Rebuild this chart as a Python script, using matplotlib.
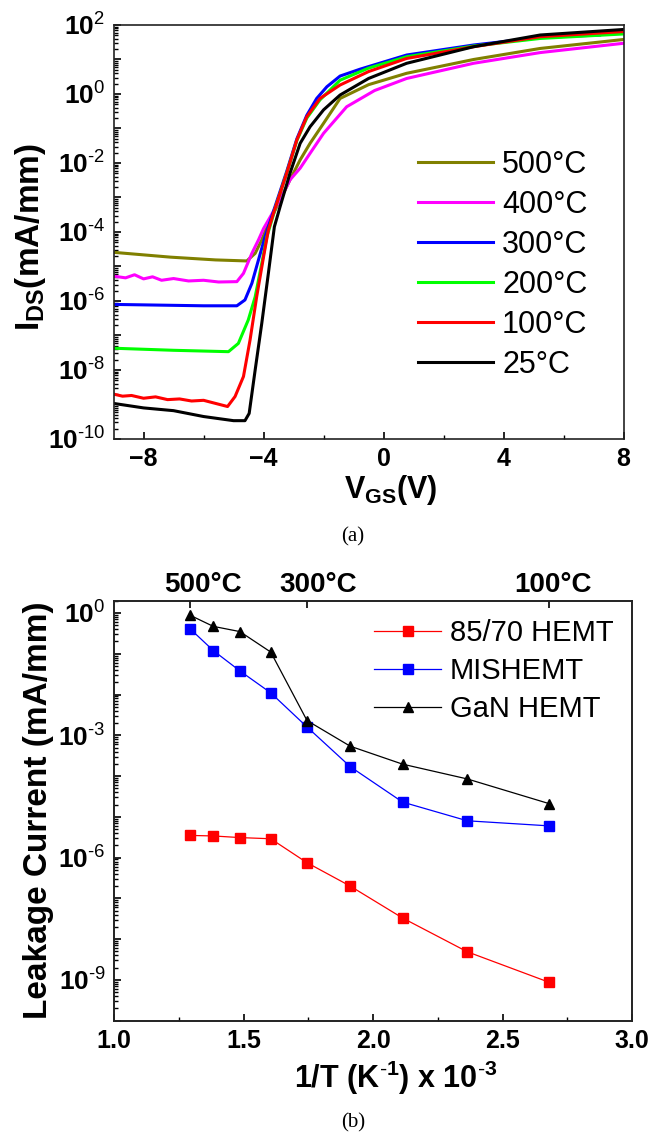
import numpy as np
import matplotlib
matplotlib.use("Agg")
import matplotlib.pyplot as plt
from matplotlib.ticker import FixedLocator, FuncFormatter, LogLocator, NullFormatter
from matplotlib.transforms import ScaledTranslation

plt.rcParams["font.family"] = ["Liberation Sans", "DejaVu Sans"]
plt.rcParams["mathtext.fontset"] = "custom"
plt.rcParams["mathtext.rm"] = "Liberation Sans"
plt.rcParams["mathtext.bf"] = "Liberation Sans:bold"
plt.rcParams["mathtext.it"] = "Liberation Sans:italic"

# ---- (a) transfer curves, log10(I_DS) ----
labels_a = ["500°C", "400°C", "300°C", "200°C", "100°C", "25°C"]
colors_a = ["#808000", "#ff00ff", "#0000ff", "#00ff00", "#ff0000", "#000000"]

v_500 = [-9, -7.1, -5.6, -4.56, -4.28, -4.06, -3.93, -3.56, -3.12, -2.78, -2.45, -2.0, -1.45, -0.5, 0.77, 3.0,
         5.22, 8]
i_500 = [-4.59, -4.73, -4.81, -4.84, -4.62, -4.23, -3.94, -3.27, -2.49, -1.91, -1.43, -0.85, -0.13, 0.27, 0.60,
         1.0, 1.32, 1.58]

v_400 = [-9, -8.6, -8.3, -8.0, -7.7, -7.4, -7.0, -6.5, -6.0, -5.5, -4.89, -4.67, -4.39, -4.17, -4.0, -3.45,
         -3.12, -2.78, -2.45, -2.0, -1.23, -0.3, 0.77, 3.0, 5.22, 8]
i_400 = [-5.28, -5.33, -5.24, -5.36, -5.30, -5.40, -5.35, -5.42, -5.40, -5.45, -5.44, -5.20, -4.62, -4.23, -3.90,
         -3.07, -2.49, -2.15, -1.72, -1.14, -0.37, 0.10, 0.45, 0.89, 1.20, 1.47]

v_300 = [-9, -6, -4.89, -4.62, -4.39, -4.17, -3.95, -3.67, -3.23, -2.89, -2.56, -2.23, -1.89, -1.45, -0.78,
         0.77, 3.0, 5.22, 7.2]
i_300 = [-6.10, -6.14, -6.14, -5.97, -5.49, -4.81, -4.14, -3.40, -2.25, -1.30, -0.62, -0.13, 0.21, 0.52, 0.72,
         1.13, 1.42, 1.64, 1.71]

v_200 = [-9, -7, -5.17, -4.84, -4.51, -4.28, -4.06, -3.89, -3.56, -3.23, -2.89, -2.56, -2.12, -1.45, -0.5, 0.77,
         3.0, 5.22, 8]
i_200 = [-7.37, -7.43, -7.47, -7.23, -6.55, -5.88, -4.91, -4.14, -3.17, -2.30, -1.35, -0.70, -0.17, 0.40, 0.75,
         1.08, 1.39, 1.61, 1.74]

v_100 = [-9, -8.7, -8.4, -8.0, -7.6, -7.2, -6.8, -6.4, -6.0, -5.6, -5.2, -4.95, -4.67, -4.45, -4.23, -4.0, -3.84,
         -3.67, -3.23, -2.89, -2.56, -2.12, -1.45, -0.5, 0.77, 3.0, 5.22, 8]
i_100 = [-8.70, -8.76, -8.74, -8.82, -8.78, -8.86, -8.84, -8.90, -8.88, -8.97, -9.06, -8.77, -8.19, -7.13, -5.88,
         -4.72, -3.94, -3.46, -2.30, -1.33, -0.66, -0.13, 0.26, 0.65, 1.03, 1.37, 1.66, 1.81]

v_25 = [-9, -8, -7, -6, -5.0, -4.62, -4.48, -4.28, -4.06, -3.84, -3.64, -3.45, -3.12, -2.78, -2.45, -2.0, -1.45,
        -0.5, 0.77, 3.0, 5.22, 8]
i_25 = [-8.97, -9.10, -9.18, -9.35, -9.47, -9.47, -9.26, -8.0, -6.65, -5.20, -3.85, -3.27, -2.30, -1.43, -0.95,
        -0.46, -0.03, 0.45, 0.89, 1.37, 1.71, 1.87]

curves_v = [v_500, v_400, v_300, v_200, v_100, v_25]
curves_i = [i_500, i_400, i_300, i_200, i_100, i_25]

# ---- (b) leakage vs 1/T ----
temps_c = [500, 450, 400, 350, 300, 250, 200, 150, 100]
leak_8570 = [3.5e-6, 3.4e-6, 3.1e-6, 2.9e-6, 7.5e-7, 2.0e-7, 3.3e-8, 4.9e-9, 8.7e-10]
leak_mis = [0.41, 0.12, 0.038, 0.011, 1.6e-3, 1.7e-4, 2.3e-5, 8e-6, 6e-6]
leak_gan = [0.88, 0.47, 0.35, 0.11, 2.3e-3, 5.4e-4, 1.96e-4, 8.5e-5, 2.1e-5]
top_temps = [500, 300, 100]
top_shift_px = [13, 11, 4]


def inv_t(tc):
    return 1000.0 / (np.asarray(tc, dtype=float) + 273.0)


def pow_label(step):
    def f(v, pos):
        k = int(round(np.log10(v)))
        if k % step:
            return ""
        return r"$\mathbf{10}^{\text{%d}}$" % k
    return f


def style(ax, step, lo, hi):
    for s in ax.spines.values():
        s.set_linewidth(1.2)
        s.set_color("#222222")
    ax.yaxis.set_major_locator(FixedLocator([10.0 ** k for k in range(lo, hi + 1)]))
    ax.yaxis.set_major_formatter(FuncFormatter(pow_label(step)))
    ax.yaxis.set_minor_locator(LogLocator(base=10, subs=np.arange(2, 10), numticks=40))
    ax.yaxis.set_minor_formatter(NullFormatter())
    ax.tick_params(which="both", direction="in", top=False, right=False)
    ax.tick_params(which="major", length=5, width=1.2, labelsize=19, pad=6)
    ax.tick_params(which="minor", length=3, width=1.0)
    ax.tick_params(axis="x", labelsize=18)
    for t in ax.get_xticklabels() + ax.get_yticklabels():
        t.set_fontweight("bold")


fig = plt.figure(figsize=(6.68, 11.36), dpi=100)

# panel (a)
ax1 = fig.add_axes([0.170, 0.6136, 0.7635, 0.3644])
for v, i, c, lab in zip(curves_v, curves_i, colors_a, labels_a):
    ax1.semilogy(v, 10.0 ** np.asarray(i), color=c, lw=2.2, label=lab)
ax1.set_xlim(-9, 8)
ax1.set_ylim(1e-10, 1e2)
ax1.set_xticks([-8, -4, 0, 4, 8])
ax1.set_xticks([-6, -2, 2, 6], minor=True)
style(ax1, 2, -10, 2)
ax1.legend(loc="upper left", bbox_to_anchor=(0.597, 0.699), frameon=False, fontsize=22,
           handlelength=2.45, handletextpad=0.3, labelspacing=0.33, borderpad=0, borderaxespad=0)

fig.text(0.046, 0.791, r"I$_{\mathbf{DS}}$(mA/mm)", rotation=90, ha="center", va="center",
         fontsize=24, fontweight="bold")
fig.text(0.585, 0.5687, r"V$_{\mathbf{GS}}$(V)", ha="center", va="center", fontsize=22, fontweight="bold")
fig.text(0.528, 0.527, "(a)", ha="center", va="center", fontsize=15, family="Liberation Serif")

# panel (b)
ax2 = fig.add_axes([0.1707, 0.1015, 0.7754, 0.3697])
x_inv = inv_t(temps_c)
ax2.semilogy(x_inv, leak_8570, color="#ff0000", lw=0.9, marker="s", ms=6.5, label="85/70 HEMT")
ax2.semilogy(x_inv, leak_mis, color="#0000ff", lw=0.9, marker="s", ms=6.5, label="MISHEMT")
ax2.semilogy(x_inv, leak_gan, color="#000000", lw=0.9, marker="^", ms=7.5, label="GaN HEMT")
ax2.set_xlim(1.0, 3.0)
ax2.set_ylim(1e-10, 2.0)
ax2.set_xticks([1.0, 1.5, 2.0, 2.5, 3.0])
ax2.set_xticklabels(["1.0", "1.5", "2.0", "2.5", "3.0"])
ax2.set_xticks([1.25, 1.75, 2.25, 2.75], minor=True)
style(ax2, 3, -10, 0)
ax2.legend(loc="upper left", bbox_to_anchor=(0.502, 0.956), frameon=False, fontsize=21,
           handlelength=2.3, handletextpad=0.3, labelspacing=0.34, borderpad=0, borderaxespad=0)

ax2t = ax2.twiny()
ax2t.set_xlim(1.0, 3.0)
ax2t.set_xticks(inv_t(top_temps))
ax2t.set_xticklabels([f"{t}°C" for t in top_temps], fontsize=20, fontweight="bold")
ax2t.tick_params(axis="x", direction="in", length=5, width=1.2, pad=2)
for lab, dx in zip(ax2t.get_xticklabels(), top_shift_px):
    lab.set_transform(lab.get_transform() + ScaledTranslation(dx / 100.0, 0, fig.dpi_scale_trans))
for s in ax2t.spines.values():
    s.set_linewidth(1.2)
    s.set_color("#222222")

fig.text(0.058, 0.287, r"Leakage Current (mA/mm)", rotation=90, ha="center", va="center",
         fontsize=24, fontweight="bold")
fig.text(0.593, 0.051, r"1/T (K$^{\mathbf{\text{-}1}}$) x 10$^{\mathbf{\text{-}3}}$", ha="center",
         va="center", fontsize=22, fontweight="bold")
fig.text(0.528, 0.0114, "(b)", ha="center", va="center", fontsize=15, family="Liberation Serif")

fig.savefig("out.png", dpi=100, facecolor="white")
